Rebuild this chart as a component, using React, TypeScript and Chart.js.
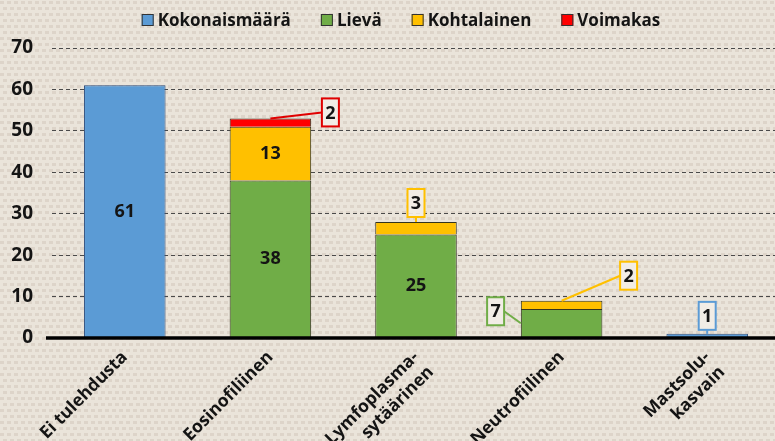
import React, { useEffect, useRef } from 'react';
import { Chart, registerables } from 'chart.js';

Chart.register(...registerables);

const categories: string[][] = [
  ['Ei tulehdusta'],
  ['Eosinofiliinen'],
  ['Lymfoplasma-', 'sytäärinen'],
  ['Neutrofiilinen'],
  ['Mastsolu-', 'kasvain'],
];
const seriesNames = ['Kokonaismäärä', 'Lievä', 'Kohtalainen', 'Voimakas'];
const totalValues = [61, null, null, null, 1];
const mildValues = [null, 38, 25, 7, null];
const moderateValues = [null, 13, 3, 2, null];
const severeValues = [null, 2, null, null, null];
const yMin = 0;
const yMax = 70;
const yStep = 10;

const seriesColors = ['#5B9BD5', '#70AD47', '#FFC000', '#FF0000'];
const seriesBorders = ['#2F4F7F', '#33331f', '#33331f', '#33331f'];

// labels drawn inside segments: [datasetIndex, dataIndex]
const insideLabels: [number, number][] = [
  [0, 0],
  [1, 1],
  [2, 1],
  [1, 2],
];
// call-out labels (offsets relative to the segment they describe)
const callouts = [
  { ds: 3, i: 1, dx: 60, dy: -6, from: 'left', anchor: 'top', color: '#E00000' },
  { ds: 2, i: 2, dx: 0, dy: -19, from: 'bottom', anchor: 'top', color: '#FFC000' },
  { ds: 2, i: 3, dx: 67, dy: -25, from: 'left', anchor: 'top', color: '#FFC000' },
  { ds: 1, i: 3, dx: -66, dy: -12, from: 'right', anchor: 'leftMid', color: '#70AD47' },
  { ds: 0, i: 4, dx: 0, dy: -18, from: 'bottom', anchor: 'top', color: '#5B9BD5' },
];

const FONT = "'Open Sans', Lato, sans-serif";
const TEXT = '#141414';
const CANVAS_W = 780;
const CANVAS_H = 441;

const backgroundPlugin = {
  id: 'burlap',
  beforeDraw(chart: any) {
    const { ctx, width, height } = chart;
    ctx.save();
    ctx.fillStyle = '#EAE4DA';
    ctx.fillRect(0, 0, width, height);
    ctx.fillStyle = 'rgba(140,120,100,0.14)';
    for (let y = 1; y < height; y += 6) {
      const shift = (Math.floor(y / 6) % 2) * 3;
      for (let x = shift; x < width; x += 7) {
        ctx.fillRect(x, y, 4, 3);
      }
    }
    ctx.restore();
  },
};

const zeroLinePlugin = {
  id: 'zeroLine',
  afterDatasetsDraw(chart: any) {
    const { ctx, chartArea, scales } = chart;
    const y = scales.y.getPixelForValue(0);
    ctx.save();
    ctx.strokeStyle = '#000';
    ctx.lineWidth = 3.5;
    ctx.beginPath();
    ctx.moveTo(chartArea.left - 6, y);
    ctx.lineTo(chart.width, y);
    ctx.stroke();
    ctx.restore();
  },
};

const labelsPlugin = {
  id: 'valueLabels',
  afterDraw(chart: any) {
    const { ctx } = chart;
    ctx.save();
    ctx.textAlign = 'center';
    ctx.textBaseline = 'middle';
    ctx.font = `bold 18px ${FONT}`;
    ctx.fillStyle = TEXT;
    for (const [ds, i] of insideLabels) {
      const el: any = chart.getDatasetMeta(ds).data[i];
      const v = chart.data.datasets[ds].data[i];
      ctx.fillText(String(v), el.x, (el.y + el.base) / 2);
    }
    const bw = 17;
    const bh = 28;
    for (const c of callouts) {
      const el: any = chart.getDatasetMeta(c.ds).data[c.i];
      const v = chart.data.datasets[c.ds].data[c.i];
      let ax = el.x;
      let ay = el.y;
      if (c.anchor === 'leftMid') {
        ax = el.x - el.width / 2;
        ay = (el.y + el.base) / 2;
      }
      const cx = el.x + c.dx;
      const cy = ay + c.dy;
      let lx = cx;
      let ly = cy;
      if (c.from === 'left') lx = cx - bw / 2;
      else if (c.from === 'right') lx = cx + bw / 2;
      else ly = cy + bh / 2;
      ctx.strokeStyle = c.color;
      ctx.lineWidth = 2;
      ctx.beginPath();
      ctx.moveTo(lx, ly);
      ctx.lineTo(ax, ay);
      ctx.stroke();
      ctx.fillStyle = 'rgba(242,238,231,0.92)';
      ctx.fillRect(cx - bw / 2, cy - bh / 2, bw, bh);
      ctx.strokeRect(cx - bw / 2, cy - bh / 2, bw, bh);
      ctx.fillStyle = TEXT;
      ctx.fillText(String(v), cx, cy + 1);
    }
    ctx.restore();
  },
};

const legendPlugin = {
  id: 'customLegend',
  afterDraw(chart: any) {
    const { ctx } = chart;
    ctx.save();
    ctx.font = `bold 17px ${FONT}`;
    ctx.textBaseline = 'middle';
    ctx.textAlign = 'left';
    const box = 12;
    const gapBox = 4;
    const gapItem = 30;
    const widths = seriesNames.map((n) => ctx.measureText(n).width);
    const total =
      widths.reduce((a, b) => a + b, 0) + seriesNames.length * (box + gapBox) + gapItem * (seriesNames.length - 1);
    const center = (chart.chartArea.left + chart.chartArea.right) / 2 - 15;
    let x = center - total / 2;
    const y = 20;
    seriesNames.forEach((name, k) => {
      ctx.fillStyle = seriesColors[k];
      ctx.fillRect(x, y - box / 2, box, box);
      ctx.strokeStyle = '#333';
      ctx.lineWidth = 1;
      ctx.strokeRect(x + 0.5, y - box / 2 + 0.5, box - 1, box - 1);
      ctx.fillStyle = TEXT;
      ctx.fillText(name, x + box + gapBox, y + 1);
      x += box + gapBox + widths[k] + gapItem;
    });
    ctx.restore();
  },
};

export default function App() {
  const canvasRef = useRef<HTMLCanvasElement>(null);

  useEffect(() => {
    document.body.style.margin = '0';
    document.body.style.overflow = 'hidden';
    const canvas = canvasRef.current;
    if (!canvas) return;
    const valueSets = [totalValues, mildValues, moderateValues, severeValues];
    const chart = new Chart(canvas, {
      type: 'bar',
      data: {
        labels: categories,
        datasets: valueSets.map((vals, k) => ({
          label: seriesNames[k],
          data: vals,
          backgroundColor: seriesColors[k],
          borderColor: seriesBorders[k],
          borderWidth: 1,
          barPercentage: 0.56,
          categoryPercentage: 1,
        })),
      },
      options: {
        animation: false,
        responsive: false,
        maintainAspectRatio: false,
        layout: { padding: { top: 48, left: 0, right: 0, bottom: 0 } },
        plugins: {
          legend: { display: false },
          tooltip: { enabled: false },
        },
        scales: {
          x: {
            stacked: true,
            grid: { display: false },
            border: { display: false },
            ticks: {
              autoSkip: false,
              maxRotation: 45,
              minRotation: 45,
              padding: 1,
              color: TEXT,
              font: { family: FONT, size: 17.5, weight: 'bold' },
            },
            afterFit: (scale: any) => {
              scale.height = 103;
            },
          },
          y: {
            stacked: true,
            min: yMin,
            max: yMax,
            ticks: {
              stepSize: yStep,
              padding: 19,
              color: TEXT,
              font: { family: FONT, size: 19, weight: 'bold' },
            },
            grid: { color: '#4a4a4a', lineWidth: 1, drawTicks: false },
            border: { display: false, dash: [4, 3] },
            afterFit: (scale: any) => {
              scale.width = 52;
            },
          },
        },
      },
      plugins: [backgroundPlugin, zeroLinePlugin, labelsPlugin, legendPlugin],
    });
    return () => chart.destroy();
  }, []);

  return (
    <div style={{ width: 775, height: 441, overflow: 'hidden' }}>
      <canvas ref={canvasRef} width={CANVAS_W} height={CANVAS_H} style={{ display: 'block' }} />
    </div>
  );
}
